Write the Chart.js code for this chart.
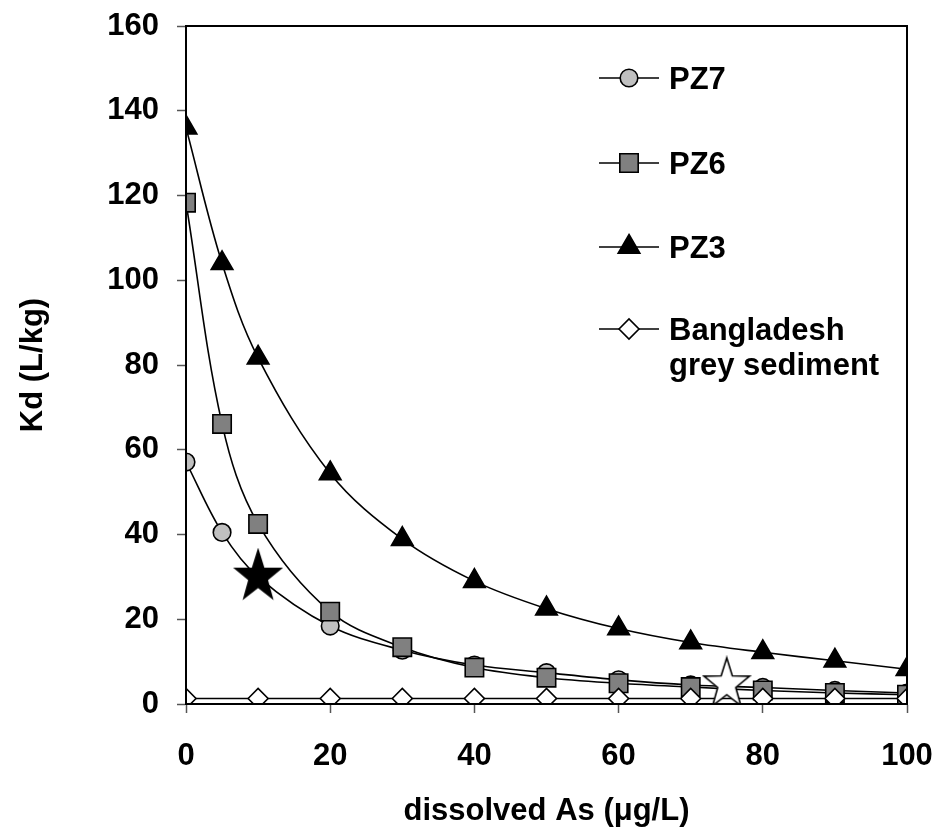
<!DOCTYPE html>
<html>
<head>
<meta charset="utf-8">
<script src="https://cdn.jsdelivr.net/npm/chart.js@4/dist/chart.umd.min.js"></script>
<style>
  html, body { margin: 0; padding: 0; background: #fff; }
  #wrap { width: 938px; height: 830px; }
</style>
</head>
<body>
<div id="wrap"><canvas id="kdChart" width="938" height="830"></canvas></div>
<script>
// dissolved As (ug/L) on x, Kd (L/kg) on y
const xPZ = [0, 5, 10, 20, 30, 40, 50, 60, 70, 80, 90, 100];
const pz7 = [57.1, 40.5, 30.0, 18.4, 12.7, 9.2, 7.4, 5.7, 4.5, 3.9, 3.2, 2.6];
const pz6 = [118.3, 66.1, 42.5, 21.8, 13.4, 8.6, 6.2, 4.9, 4.0, 3.2, 2.6, 2.2];
const pz3 = [136.0, 104.0, 81.7, 54.4, 38.9, 29.0, 22.5, 17.8, 14.5, 12.2, 10.2, 8.2];
const xBd = [0, 10, 20, 30, 40, 50, 60, 70, 80, 90, 100];
const bangladesh = [1.3, 1.3, 1.3, 1.3, 1.3, 1.3, 1.3, 1.3, 1.3, 1.3, 1.3];
const starBlack = { x: 10, y: 30.4 };
const starWhite = { x: 75, y: 5.0 };
const xTicks = [0, 20, 40, 60, 80, 100];
const yTicks = [0, 20, 40, 60, 80, 100, 120, 140, 160];

const FONT = "'Liberation Sans', Arial, sans-serif";

function toPoints(xs, ys) {
    return xs.map((x, i) => ({ x: x, y: ys[i] }));
}

// 5-pointed star image (Chart.js 'star' is only a cross of lines)
function makeStar(fill) {
    const w = 50, h = 55;
    const c = document.createElement('canvas');
    c.width = w; c.height = h;
    const g = c.getContext('2d');
    const R = 24, r = 9.5, sy = 1.1;
    g.beginPath();
    for (let i = 0; i < 10; i++) {
        const a = -Math.PI / 2 + i * Math.PI / 5;
        const rad = i % 2 === 0 ? R : r;
        const px = w / 2 + Math.cos(a) * rad;
        const py = h / 2 + 1.5 + Math.sin(a) * rad * sy;
        if (i === 0) g.moveTo(px, py); else g.lineTo(px, py);
    }
    g.closePath();
    g.fillStyle = fill;
    g.fill();
    g.lineWidth = 1.6;
    g.strokeStyle = '#000';
    g.stroke();
    return c;
}

const series = [
    { label: 'PZ7', x: xPZ, y: pz7, style: 'circle', radius: 8.8, fill: '#c0c0c0', order: 5 },
    { label: 'PZ6', x: xPZ, y: pz6, style: 'rect', radius: 13, fill: '#808080', order: 4 },
    { label: 'PZ3', x: xPZ, y: pz3, style: 'triangle', radius: 12.5, fill: '#000000', order: 3 },
    { label: ['Bangladesh', 'grey sediment'], x: xBd, y: bangladesh, style: 'rectRot', radius: 10, fill: '#ffffff', order: 2 }
];

const datasets = series.map(s => ({
    label: Array.isArray(s.label) ? s.label.join(' ') : s.label,
    data: toPoints(s.x, s.y),
    borderColor: '#000',
    borderWidth: 1.6,
    tension: 0.35,
    pointStyle: s.style,
    pointRadius: s.radius,
    pointBackgroundColor: s.fill,
    pointBorderColor: '#000',
    pointBorderWidth: 1.6,
    order: s.order
}));

datasets.push({
    label: 'stars',
    data: [starBlack],
    showLine: false,
    pointStyle: makeStar('#000'),
    pointRadius: 25,
    order: 0
});
datasets.push({
    label: 'stars2',
    data: [starWhite],
    showLine: false,
    pointStyle: makeStar('#fff'),
    pointRadius: 25,
    order: 0
});

// plot box + custom legend inside the plot
const framePlugin = {
    id: 'frame',
    afterDraw(chart) {
        const { ctx, chartArea: a } = chart;
        ctx.save();
        ctx.strokeStyle = '#000';
        ctx.lineWidth = 2;
        ctx.strokeRect(a.left, a.top, a.right - a.left, a.bottom - a.top);

        const rows = [78, 163, 247, 329];
        const x0 = 599, x1 = 659, xm = 629, xt = 669;
        ctx.font = 'bold 31px ' + FONT;
        ctx.textBaseline = 'middle';
        ctx.textAlign = 'left';
        series.forEach((s, i) => {
            const y = rows[i];
            ctx.beginPath();
            ctx.moveTo(x0, y);
            ctx.lineTo(x1, y);
            ctx.lineWidth = 1.6;
            ctx.strokeStyle = '#000';
            ctx.stroke();
            ctx.fillStyle = s.fill;
            ctx.strokeStyle = '#000';
            ctx.lineWidth = 1.6;
            Chart.helpers.drawPoint(ctx, { pointStyle: s.style, radius: s.radius, borderWidth: 1.6, rotation: 0 }, xm, y);
            ctx.fillStyle = '#000';
            const lines = Array.isArray(s.label) ? s.label : [s.label];
            lines.forEach((t, j) => ctx.fillText(t, xt, y + 2 + j * 35));
        });
        ctx.restore();
    }
};

new Chart(document.getElementById('kdChart').getContext('2d'), {
    type: 'line',
    data: { datasets: datasets },
    options: {
        responsive: false,
        devicePixelRatio: 1,
        animation: false,
        layout: { padding: { left: 0, top: 25, right: 31, bottom: 0 } },
        plugins: {
            legend: { display: false },
            tooltip: { enabled: false }
        },
        scales: {
            x: {
                type: 'linear',
                min: 0,
                max: 100,
                afterBuildTicks: scale => { scale.ticks = xTicks.map(v => ({ value: v })); },
                afterFit: scale => {
                    scale.height = 126;
                    scale.paddingLeft = 0;
                    scale.paddingRight = 0;
                },
                ticks: {
                    color: '#000',
                    font: { family: FONT, size: 31, weight: 'bold' },
                    padding: 25,
                    maxRotation: 0
                },
                grid: { drawOnChartArea: false, drawTicks: true, tickLength: 9, tickColor: '#555', tickWidth: 1.5 },
                border: { display: true, color: '#000', width: 2 },
                title: {
                    display: true,
                    text: 'dissolved As (\u03bcg/L)',
                    color: '#000',
                    font: { family: FONT, size: 31, weight: 'bold' },
                    padding: { top: 0, bottom: 0 }
                }
            },
            y: {
                type: 'linear',
                min: 0,
                max: 160,
                afterBuildTicks: scale => { scale.ticks = yTicks.map(v => ({ value: v })); },
                afterFit: scale => {
                    scale.width = 186;
                    scale.paddingTop = 0;
                    scale.paddingBottom = 0;
                },
                ticks: {
                    color: '#000',
                    font: { family: FONT, size: 31, weight: 'bold' },
                    padding: 18
                },
                grid: { drawOnChartArea: false, drawTicks: true, tickLength: 9, tickColor: '#555', tickWidth: 1.5 },
                border: { display: true, color: '#000', width: 2 },
                title: {
                    display: true,
                    text: 'Kd (L/kg)',
                    color: '#000',
                    font: { family: FONT, size: 31, weight: 'bold' },
                    padding: { top: 15, bottom: 0 }
                }
            }
        }
    },
    plugins: [framePlugin]
});
</script>
</body>
</html>
